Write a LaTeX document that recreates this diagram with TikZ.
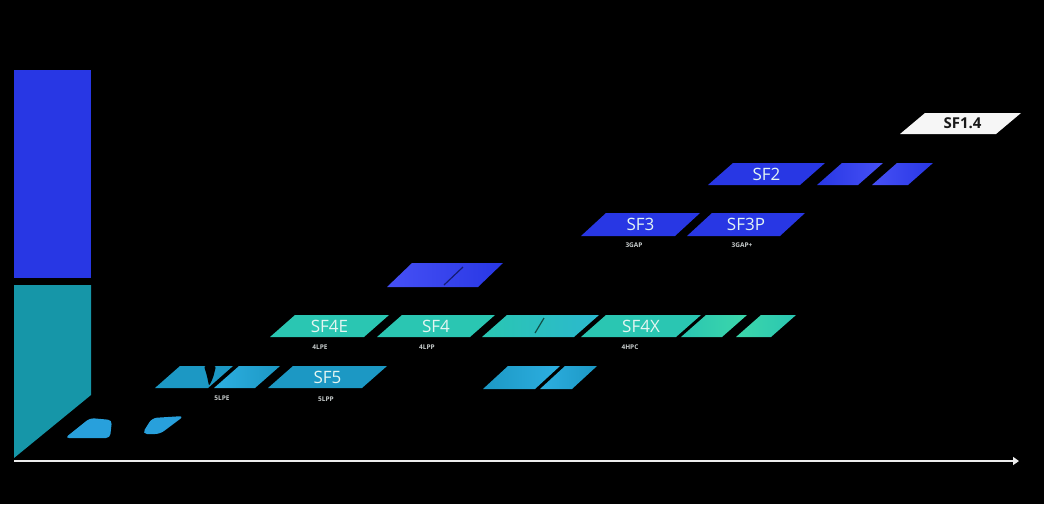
\documentclass[tikz,border=0pt]{standalone}
\usepackage{fontspec}
\setmainfont{Open Sans}
\usetikzlibrary{arrows.meta}
\definecolor{bgblack}{RGB}{0,0,0}
\definecolor{sfblue}{RGB}{40,55,228}
\definecolor{sfblueL}{RGB}{70,80,245}
\definecolor{barteal}{RGB}{22,150,168}
\definecolor{mint}{RGB}{42,198,178}
\definecolor{mintL}{RGB}{60,215,170}
\definecolor{cyanb}{RGB}{28,152,196}
\definecolor{cyanL}{RGB}{45,175,225}
\definecolor{blobc}{RGB}{40,160,220}
\definecolor{txtc}{RGB}{228,246,242}
\definecolor{subc}{RGB}{200,205,205}
\definecolor{chipwhite}{RGB}{246,246,246}
\newcommand\chipslant{25}
% #1 name, #2 x bottom-left, #3 x bottom-right, #4 y top, #5 y bottom, #6 fill style
\newcommand\chip[6]{%
  \path[#6] (#2,#5) -- (#3,#5) -- ({#3+\chipslant},#4) -- ({#2+\chipslant},#4) -- cycle;
  \coordinate (#1) at ({(#2+#3)/2+\chipslant/2},{(#4+#5)/2});
}
\tikzset{
  chiptext/.style={text=txtc, font=\fontsize{17}{17}\selectfont, inner sep=0pt, anchor=center},
  subtext/.style={text=subc, font=\fontsize{6.5}{6.5}\selectfont\bfseries, inner sep=0pt, anchor=center},
  seam/.style={draw=black!70, line width=1.2pt},
}
\begin{document}
\begin{tikzpicture}[x=1pt,y=-1pt]
\useasboundingbox (0,0) rectangle (1044,504);
\fill[bgblack] (0,0) rectangle (1044,504);

% left bars
\fill[sfblue] (14,70) rectangle (91,278);
\fill[barteal] (14,285) -- (91,285) -- (91,395) -- (14,458) -- cycle;

% axis
\coordinate (axstart) at (14,461);
\coordinate (axend) at (1019,461);
\draw[line width=2.6pt, white!85!gray, -{Triangle[length=6pt,width=8pt]}] (axstart) -- (axend);

% SF1.4
\chip{sf14}{900}{996}{113}{134}{fill=chipwhite}
\node[text=black!90, font=\fontsize{15}{15}\selectfont\bfseries, inner sep=0pt] (t-sf14) at ([xshift=2pt]sf14) {SF1.4};

% SF2 row
\chip{sf2}{708}{800}{163}{185}{fill=sfblue}
\node[chiptext] (t-sf2) at (sf2) {SF2};
\chip{sf2b}{817}{858}{163}{185}{left color=sfblue, right color=sfblueL}
\chip{sf2c}{872}{908}{163}{185}{left color=sfblueL, right color=sfblue}

% SF3 row
\chip{sf3}{581}{675}{213}{236}{fill=sfblue}
\node[chiptext] (t-sf3) at (sf3) {SF3};
\node[subtext] (l-sf3) at (634,245) {3GAP};
\chip{sf3p}{687}{780}{213}{236}{fill=sfblue}
\node[chiptext] (t-sf3p) at (sf3p) {SF3P};
\node[subtext] (l-sf3p) at (742,245) {3GAP+};

% blue ghost
\chip{g4b}{387}{478}{263}{287}{left color=sfblueL, right color=sfblue}
\coordinate (g4b-s1) at (444,285);
\coordinate (g4b-s2) at (463,267);
\draw[seam, draw=sfblue!50!black] (g4b-s1) -- (g4b-s2);

% SF4 row
\chip{sf4e}{270}{364}{315}{337}{fill=mint}
\node[chiptext] (t-sf4e) at (sf4e) {SF4E};
\node[subtext] (l-sf4e) at (320,347) {4LPE};
\chip{sf4}{377}{470}{315}{337}{fill=mint}
\node[chiptext] (t-sf4) at (sf4) {SF4};
\node[subtext] (l-sf4) at (427,347) {4LPP};
\chip{g4a}{482}{574}{315}{337}{left color=mint, right color=cyanL!60!mint}
\coordinate (g4a-s1) at (535,333);
\coordinate (g4a-s2) at (544,318);
\draw[seam, draw=mint!40!black] (g4a-s1) -- (g4a-s2);
\chip{sf4x}{581}{676}{315}{337}{fill=mint}
\node[chiptext] (t-sf4x) at (sf4x) {SF4X};
\node[subtext] (l-sf4x) at (630,347) {4HPC};
\chip{g4c}{681}{722}{315}{337}{left color=mint, right color=mintL}
\chip{g4d}{736}{771}{315}{337}{left color=mintL, right color=mint}

% SF5 row
\chip{g5a}{155}{208}{366}{388}{fill=cyanb}
\fill[black, rounded corners=2pt] (204,366) -- (216,366) -- (213,378) -- (209,386) -- (207,376) -- cycle;
\chip{g5b}{214}{255}{366}{388}{left color=cyanL, right color=cyanb}
\node[subtext] (l-5lpe) at (222,398) {5LPE};
\chip{sf5}{268}{362}{366}{388}{fill=cyanb}
\node[chiptext] (t-sf5) at (sf5) {SF5};
\node[subtext] (l-sf5) at (326,399) {5LPP};
\chip{g5c}{483}{535}{366}{389}{left color=cyanb, right color=cyanL}
\chip{g5d}{540}{572}{366}{389}{left color=cyanL, right color=cyanb}

% bottom blobs
\path[fill=blobc, rounded corners=4pt] (65,438) -- (110,438) -- (112,420) -- (90,418) -- cycle;
\path[fill=blobc, rounded corners=5pt] (142,434) -- (160,434) -- (184,416) -- (152,418) -- cycle;
\end{tikzpicture}
\end{document}
